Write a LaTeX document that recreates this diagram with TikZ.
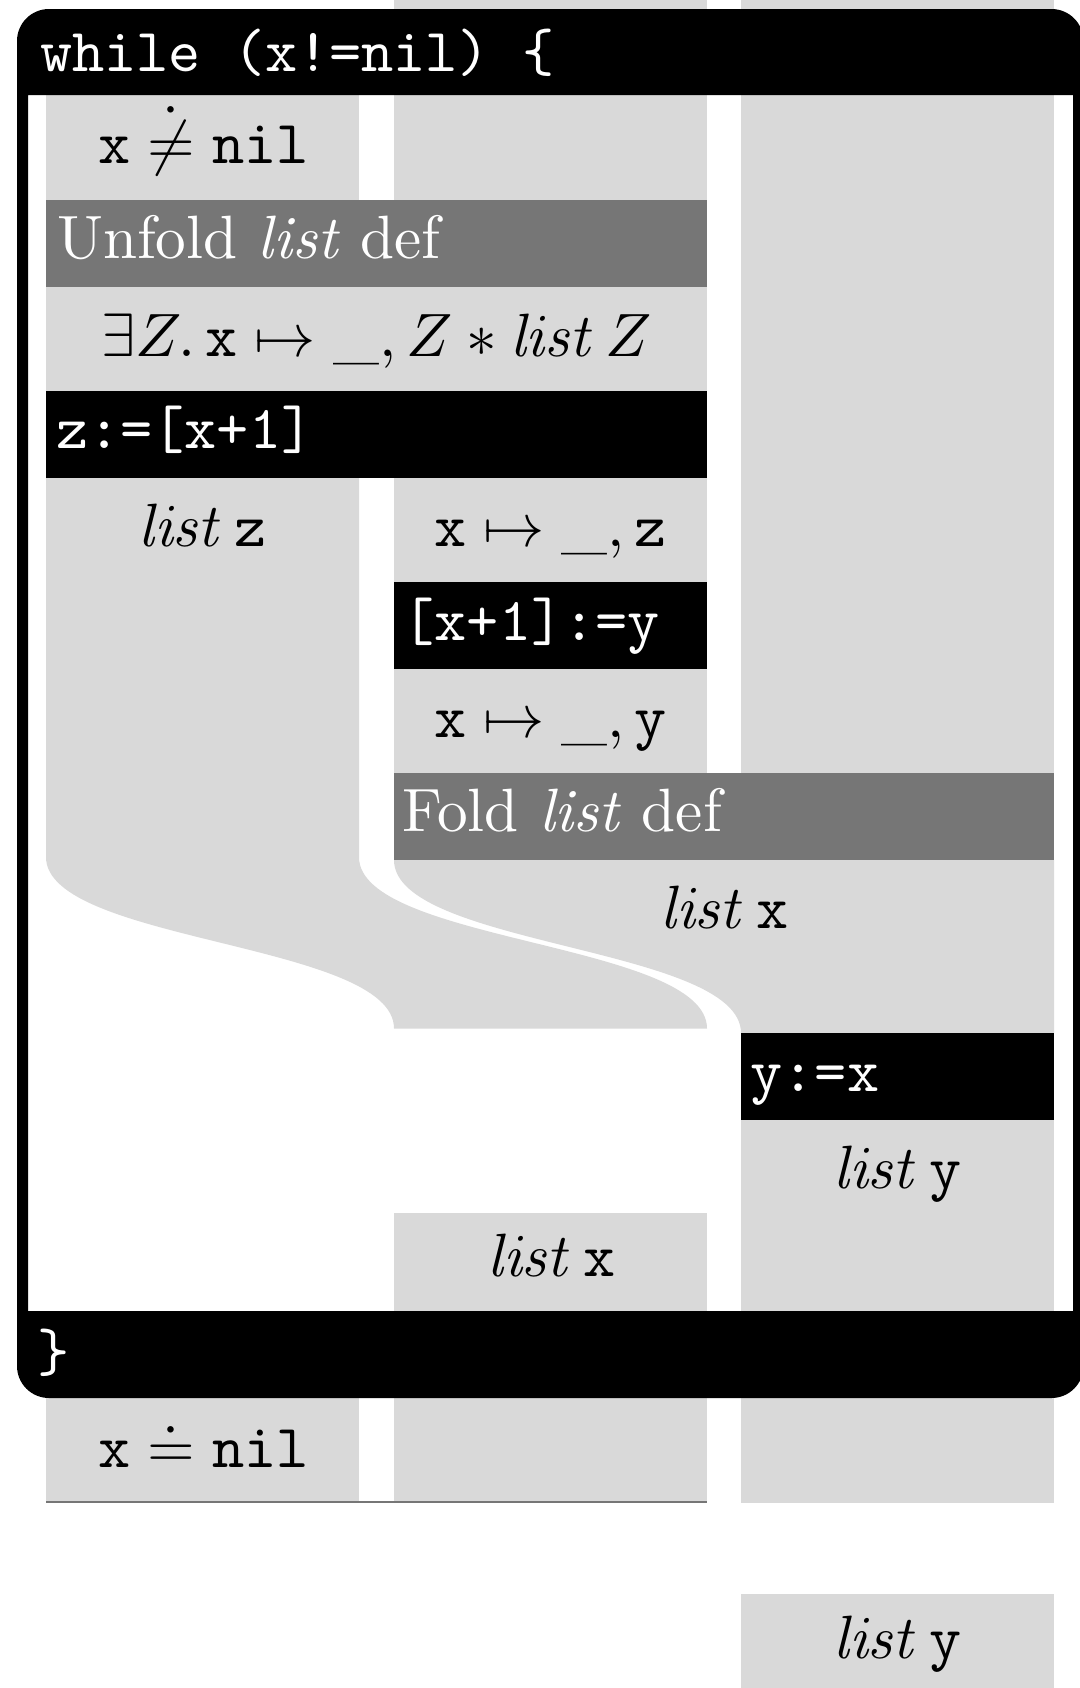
\documentclass[tikz,border=0pt]{standalone}
\definecolor{rib}{RGB}{217,217,217}
\definecolor{lem}{RGB}{118,118,118}
\tikzset{
  ribbon/.style={fill=rib},
  cmdbar/.style={fill=black},
  lemmabar/.style={fill=lem},
  txt/.style={font=\normalsize, scale=3.06, transform shape, inner sep=0pt},
  lbl/.style={txt, anchor=base, text=black},
  cmdtxt/.style={txt, anchor=base west, text=white},
}
\begin{document}
\begin{tikzpicture}[x=0.5pt,y=-0.5pt]
\useasboundingbox (0,0) rectangle (1080,1688);
\clip (0,0) rectangle (1080,1688);
% ribbons inside / behind frame
\fill[ribbon] (394,0) rectangle (707,200);
\fill[ribbon] (741,0) rectangle (1054,773);
\fill[ribbon] (46,95) rectangle (359,200);
\fill[lemmabar] (46,200) rectangle (707,287);
\fill[ribbon] (46,287) rectangle (707,391);
\fill[cmdbar] (46,391) rectangle (707,478);
\fill[ribbon] (46,478) -- (359,478) -- (359,857)
  .. controls (359,942.5) and (707,942.5) .. (707,1028.5)
  -- (394,1028.5)
  .. controls (394,942.5) and (46,942.5) .. (46,857) -- cycle;
\fill[ribbon] (394,478) rectangle (707,582);
\fill[cmdbar] (394,582) rectangle (707,669);
\fill[ribbon] (394,669) rectangle (707,773);
\fill[lemmabar] (394,773) rectangle (1054,860);
\fill[ribbon] (394,860) -- (1054,860) -- (1054,1033) -- (741,1033)
  .. controls (741,946.5) and (394,946.5) .. (394,860) -- cycle;
\fill[cmdbar] (741,1033) rectangle (1054,1120);
\fill[ribbon] (741,1120) rectangle (1054,1311);
\fill[ribbon] (394,1213) rectangle (707,1311);
% below loop
\fill[ribbon] (46,1398) rectangle (359,1502);
\fill[ribbon] (394,1398) rectangle (707,1502);
\fill[ribbon] (741,1398) rectangle (1054,1503);
\draw[lem, line width=0.75pt] (46,1502) -- (707,1502);
\fill[ribbon] (741,1594) rectangle (1054,1688);
% loop frame
\fill[black, even odd rule] [rounded corners=16pt] (17,9) rectangle (1083.5,1398)
  [sharp corners] (28,95) rectangle (1073,1311);
% texts
\node[cmdtxt] (whilehead) at (39,71) {\texttt{while (x!=nil) \{}};
\node[cmdtxt] (whileend) at (36,1371.5) {\texttt{\}}};
\node[lbl] (pre) at (203.5,163.3) {$\mathtt{x}\mathrel{\dot{\neq}}\mathtt{nil}$};
\node[cmdtxt] (unfold) at (56,258.3) {Unfold \textit{list} def};
\node[lbl] (exists) at (377,356) {$\exists Z.\,\mathtt{x}\mapsto\_,Z*\mathit{list}\,Z$};
\node[cmdtxt] (cmdz) at (55,448) {\texttt{z:=[x+1]}};
\node[lbl] (listz) at (202.5,546.7) {$\mathit{list}\,\mathtt{z}$};
\node[lbl] (ptsz) at (550.5,546.7) {$\mathtt{x}\mapsto\_,\mathtt{z}$};
\node[cmdtxt] (cmdy) at (401.5,640) {\texttt{[x+1]:=y}};
\node[lbl] (ptsy) at (550.5,737.3) {$\mathtt{x}\mapsto\_,\mathtt{y}$};
\node[cmdtxt] (fold) at (401,831.7) {Fold \textit{list} def};
\node[lbl] (listxa) at (724.5,928.3) {$\mathit{list}\,\mathtt{x}$};
\node[cmdtxt] (cmdyx) at (749.5,1091) {\texttt{y:=x}};
\node[lbl] (listya) at (897.5,1188.3) {$\mathit{list}\,\mathtt{y}$};
\node[lbl] (listxb) at (551.5,1276.7) {$\mathit{list}\,\mathtt{x}$};
\node[lbl] (post) at (203.5,1467.3) {$\mathtt{x}\mathrel{\dot{=}}\mathtt{nil}$};
\node[lbl] (listyb) at (897.5,1658.3) {$\mathit{list}\,\mathtt{y}$};
\end{tikzpicture}
\end{document}
